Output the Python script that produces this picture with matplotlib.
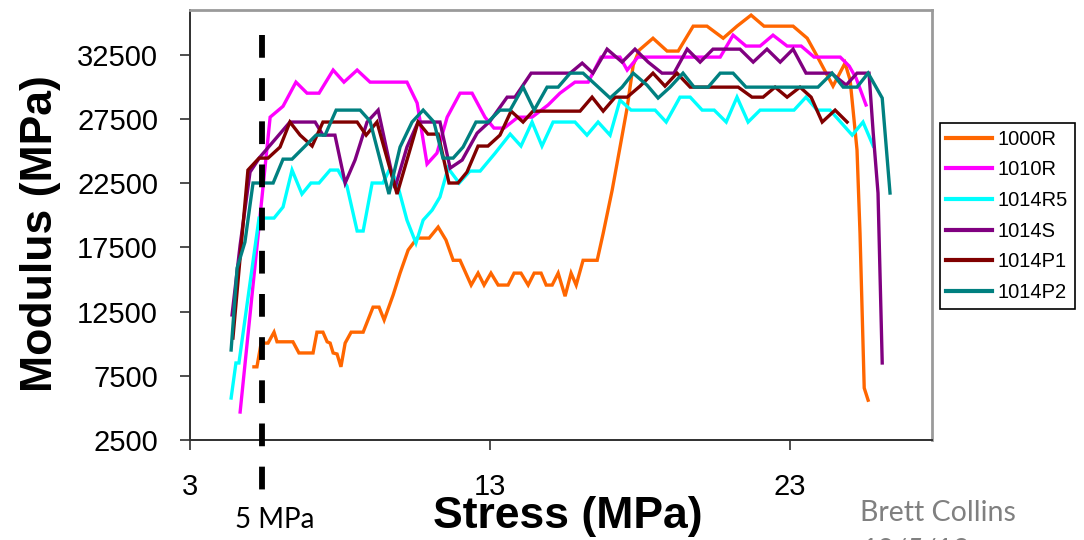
import matplotlib
matplotlib.use('Agg')
import matplotlib.pyplot as plt

plt.rcParams['font.family'] = 'Liberation Sans'

# stress (MPa) / modulus (MPa) for each sample
x_1000R = [5.13, 5.23, 5.37, 5.6, 5.8, 5.9, 6.43, 6.63, 7.1, 7.23, 7.43, 7.57, 7.67, 7.77, 7.9,
           8.03, 8.17, 8.37, 8.77, 9.1, 9.3, 9.47, 9.77, 10.0, 10.27, 10.57, 10.97, 11.27, 11.53,
           11.77, 12.0, 12.37, 12.6, 12.8, 13.03, 13.27, 13.6, 13.8, 14.03, 14.27, 14.47, 14.7,
           14.87, 15.07, 15.27, 15.5, 15.7, 15.87, 16.1, 16.57, 16.77, 17.07, 17.33, 17.57, 17.77,
           17.97, 18.43, 18.9, 19.27, 19.77, 20.23, 20.77, 21.23, 21.7, 22.13, 23.1, 23.57, 23.9,
           24.43, 24.83, 25.0, 25.23, 25.33, 25.47, 25.6]
y_1000R = [8200, 8200, 10050, 10050, 10900, 10150, 10150, 9280, 9280, 10900, 10900, 10150, 10050, 9280, 9200,
           8200, 10050, 10900, 10900, 12850, 12850, 11850, 13800, 15500, 17300, 18230, 18230, 19090, 18080,
           16500, 16500, 14570, 15500, 14570, 15500, 14570, 14570, 15500, 15500, 14570, 15500, 15500,
           14570, 14570, 15500, 13700, 15500, 14570, 16500, 16500, 18600, 21970, 25300, 28400, 31700,
           32870, 33800, 32800, 32800, 34740, 34740, 33800, 34740, 35600, 34740, 34740, 33800, 32400,
           30070, 31860, 30540, 25100, 18600, 6550, 5600]

x_1010R = [4.67, 5.67, 6.1, 6.53, 6.9, 7.3, 7.77, 8.13, 8.57, 9.0, 10.23, 10.57, 10.9, 11.23, 11.57,
           12.0, 12.4, 12.83, 13.13, 13.47, 13.93, 14.4, 14.93, 15.33, 15.83, 16.27, 16.7, 17.33,
           17.57, 17.93, 20.67, 21.1, 21.53, 22.0, 22.43, 22.9, 23.37, 23.8, 24.67, 24.97, 25.2, 25.53]
y_1010R = [4680, 27650, 28500, 30380, 29520, 29520, 31320, 30380, 31320, 30380, 30380, 28750, 24000, 24850, 27650,
           29520, 29520, 27650, 26800, 26800, 27650, 27650, 28590, 29520, 30380, 30380, 32330, 32330,
           31320, 32330, 32330, 34040, 33190, 33190, 34040, 33190, 33190, 32330, 32330, 31630, 30690, 28600]

x_1014R5 = [4.37, 4.53, 4.63, 5.3, 5.8, 6.1, 6.4, 6.73, 7.03, 7.3, 7.67, 7.93, 8.23, 8.57, 8.77, 9.07,
            9.43, 9.67, 9.9, 10.23, 10.53, 10.77, 11.07, 11.33, 11.6, 11.97, 12.33, 12.67, 13.17,
            13.67, 14.03, 14.4, 14.73, 15.1, 15.83, 16.23, 16.6, 17.0, 17.33, 17.7, 18.5, 18.87,
            19.33, 19.67, 20.07, 20.47, 20.87, 21.23, 21.6, 22.0, 23.13, 23.53, 23.9, 24.33, 25.07,
            25.43, 25.77]
y_1014R5 = [5770, 8500, 8500, 19790, 19790, 20650, 23530, 21660, 22520, 22520, 23530, 23530, 22280, 18780, 18780, 22520,
            22520, 23680, 22520, 19630, 17840, 19630, 20410, 21430, 23680, 22520, 23450, 23450, 24850,
            26330, 25400, 27270, 25400, 27270, 27270, 26250, 27270, 26250, 28980, 28200, 28200, 27270,
            29210, 29210, 28200, 28200, 27270, 29210, 27270, 28200, 28200, 29210, 28200, 28200, 26250,
            27270, 25400]

x_1014S = [4.4, 4.67, 5.0, 5.33, 6.33, 7.17, 7.43, 7.83, 8.17, 8.5, 8.9, 9.27, 9.83, 10.23, 10.6,
           11.33, 11.67, 12.07, 12.57, 13.0, 13.57, 13.83, 14.37, 15.67, 16.07, 16.43, 16.9, 17.4,
           17.83, 18.27, 18.73, 19.13, 19.57, 20.0, 20.43, 21.33, 21.77, 22.23, 22.67, 23.1, 23.53,
           24.37, 24.87, 25.23, 25.63, 25.77, 25.93, 26.07]
y_1014S = [12240, 17690, 23370, 24540, 27270, 27270, 26250, 26250, 22520, 24310, 27270, 28200, 22130, 25320, 27270,
           27270, 23680, 24310, 26410, 27340, 29210, 29210, 31080, 31080, 31860, 31080, 32950, 31940,
           32950, 31940, 31080, 31080, 32950, 31940, 32950, 32950, 31940, 32950, 31940, 32950, 31080,
           31080, 30150, 31080, 31080, 26410, 21740, 8500]

x_1014P1 = [4.43, 4.93, 5.3, 5.6, 6.0, 6.33, 6.67, 7.07, 7.43, 8.57, 8.87, 9.23, 9.9, 10.6, 10.93,
            11.27, 11.63, 11.93, 12.23, 12.6, 12.93, 13.33, 13.7, 14.1, 14.43, 16.0, 16.4, 16.77,
            17.17, 17.57, 18.0, 18.43, 18.83, 19.23, 19.67, 21.27, 21.73, 22.1, 22.5, 22.9, 23.33,
            23.7, 24.07, 24.5, 24.9]
y_1014P1 = [10440, 23530, 24460, 24460, 25320, 27270, 26250, 25400, 27270, 27270, 26250, 27270, 21660, 27270, 26330,
            26330, 22520, 22520, 23370, 25400, 25400, 26250, 28120, 27270, 28120, 28120, 29210, 28120,
            29210, 29210, 30070, 31080, 30070, 31080, 29990, 29990, 29210, 29210, 29990, 29210, 29990,
            29210, 27270, 28200, 27270]

x_1014P2 = [4.37, 4.57, 4.83, 5.1, 5.77, 6.1, 6.4, 7.2, 7.5, 7.87, 8.67, 9.0, 9.63, 10.0, 10.4, 10.77,
            11.13, 11.43, 11.77, 12.1, 12.53, 12.93, 13.33, 13.67, 14.1, 14.47, 14.9, 15.27, 15.67,
            16.1, 16.57, 17.0, 17.4, 17.77, 18.23, 18.6, 19.0, 19.43, 19.8, 20.27, 20.67, 21.1, 21.53,
            23.93, 24.4, 24.77, 25.23, 25.6, 26.07, 26.33]
y_1014P2 = [9510, 15900, 17920, 22520, 22520, 24380, 24380, 26250, 26250, 28200, 28200, 27340, 21660, 25320, 27270, 28200,
            27270, 24460, 24460, 25320, 27270, 27270, 28200, 28200, 29990, 28200, 29990, 29990, 31080,
            31080, 30070, 29140, 29990, 31080, 30150, 29140, 29990, 31080, 29990, 29990, 31080, 31080, 29990,
            29990, 31080, 29990, 29990, 31080, 29140, 21740]

series = [
    ('1000R', x_1000R, y_1000R, '#FF6600'),
    ('1010R', x_1010R, y_1010R, '#FF00FF'),
    ('1014R5', x_1014R5, y_1014R5, '#00FFFF'),
    ('1014S', x_1014S, y_1014S, '#800080'),
    ('1014P1', x_1014P1, y_1014P1, '#800000'),
    ('1014P2', x_1014P2, y_1014P2, '#008080'),
]

x_ticks = [3, 13, 23]
y_ticks = [2500, 7500, 12500, 17500, 22500, 27500, 32500]
marker_stress = 5.4   # where the dashed "5 MPa" line sits on this axis

fig = plt.figure(figsize=(10.84, 5.4), dpi=100)
ax = fig.add_axes([0.1753, 0.1852, 0.6845, 0.7963])

for name, xs, ys, col in series:
    ax.plot(xs, ys, color=col, linewidth=2.4, label=name, solid_joinstyle='miter')

ax.set_xlim(3, 27.73)
ax.set_ylim(2500, 36000)
ax.set_xticks(x_ticks)
ax.set_yticks(y_ticks)

# thick dashed reference line, running past the x axis
ax.plot([marker_stress, marker_stress], [34050, -1940], color='black', linewidth=4.2,
        linestyle=(0, (3.9, 3.5)), clip_on=False, zorder=5)

ax.spines['left'].set_color('#303030')
ax.spines['bottom'].set_color('#303030')
ax.spines['left'].set_linewidth(1.4)
ax.spines['bottom'].set_linewidth(1.4)
ax.spines['top'].set_color('#9a9a9a')
ax.spines['right'].set_color('#9a9a9a')
ax.spines['top'].set_linewidth(2)
ax.spines['right'].set_linewidth(2)

ax.tick_params(axis='both', direction='out', length=7, width=1.2, color='#303030', labelsize=21)
ax.tick_params(axis='x', pad=17)
ax.tick_params(axis='y', pad=16)

ax.set_xlabel('Stress (MPa)', fontsize=32, fontweight='bold', ha='center', va='center')
ax.xaxis.set_label_coords(0.509, -0.179)
ax.set_ylabel('Modulus (MPa)', fontsize=32, fontweight='bold', ha='center', va='center')
ax.yaxis.set_label_coords(-0.202, 0.479)

leg = ax.legend(loc='upper left', bbox_to_anchor=(0.867, 0.772), bbox_transform=fig.transFigure,
                fontsize=14.5, frameon=True, fancybox=False, framealpha=1, edgecolor='black',
                borderaxespad=0, borderpad=0.33, labelspacing=0.58, handlelength=2.25,
                handletextpad=0.3)
leg.get_frame().set_linewidth(1.2)
for h in leg.get_lines():
    h.set_linewidth(3)

fig.text(275 / 1084, 1 - 520 / 540, '5 MPa', fontsize=20, family='Lato', ha='center', va='center')
fig.text(860 / 1084, 1 - 513 / 540, 'Brett Collins', fontsize=20.5, family='Lato', color='#808080',
         ha='left', va='center')
fig.text(862 / 1084, 1 - 538 / 540, '10/5/12', fontsize=20.5, family='Lato', color='#808080',
         ha='left', va='top')

fig.savefig('out.png', dpi=100)
